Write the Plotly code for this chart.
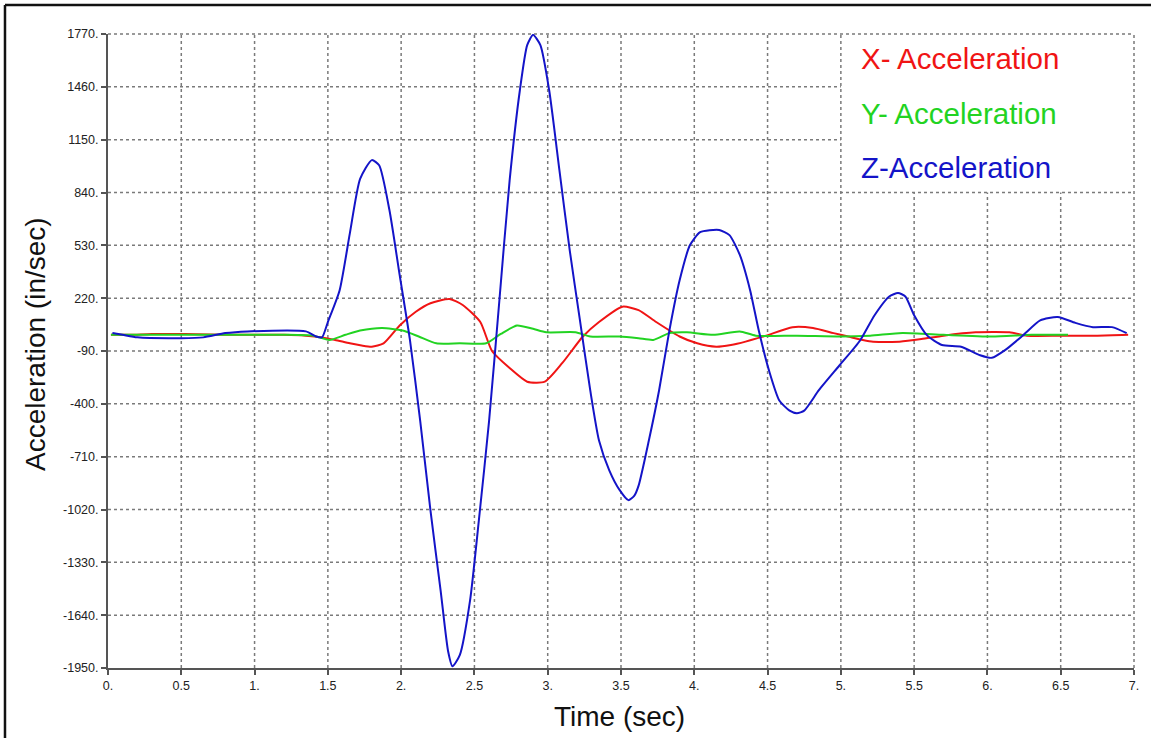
import plotly.graph_objects as go

# Time samples (sec) and accelerations (in/sec) for each axis
t_x = [0.02, 0.15, 0.3, 0.45, 0.6, 0.8, 1.0, 1.2, 1.35, 1.46, 1.55, 1.65, 1.73, 1.8, 1.88,
       1.99, 2.1, 2.2, 2.33, 2.42, 2.54, 2.62, 2.74, 2.86, 2.98, 3.1, 3.24, 3.35, 3.51, 3.62,
       3.74, 3.9, 4.02, 4.15, 4.25, 4.35, 4.49, 4.67, 4.81, 4.95, 5.05, 5.15, 5.22, 5.4,
       5.55, 5.7, 5.92, 6.15, 6.27, 6.5, 6.75, 6.96]
acc_x = [5, 5, 10, 10, 8, 5, 5, 5, 0, -10, -25, -45, -58, -65, -45,
         60, 140, 190, 215, 180, 80, -90, -190, -270, -270, -160, -5, 80, 170, 150,
         80, -5, -45, -65, -55, -35, 0, 50, 45, 15, -5, -25, -35, -35,
         -20, 0, 20, 20, 0, 0, 0, 5]

t_y = [0.02, 0.4, 0.8, 1.2, 1.4, 1.51, 1.62, 1.72, 1.87, 2.01, 2.12, 2.24, 2.4, 2.58, 2.68,
       2.79, 2.9, 2.99, 3.19, 3.29, 3.49, 3.62, 3.72, 3.83, 3.95, 4.13, 4.31, 4.42, 4.7,
       5.0, 5.2, 5.42, 5.7, 6.03, 6.3, 6.55]
acc_y = [5, 5, 5, 5, 0, -25, 5, 30, 45, 30, -5, -45, -45, -45, 10,
         60, 40, 20, 20, -5, -5, -15, -25, 15, 20, 5, 25, 0, 0,
         -5, 0, 15, 5, -5, 5, 5]

t_z = [0.03, 0.1, 0.2, 0.5, 0.65, 0.8, 0.95, 1.35, 1.42, 1.46, 1.5, 1.58, 1.65, 1.72, 1.8,
       1.85, 1.92, 1.99, 2.06, 2.13, 2.2, 2.27, 2.32, 2.35, 2.4, 2.47, 2.53, 2.6, 2.67,
       2.74, 2.81, 2.86, 2.9, 2.95, 3.01, 3.08, 3.15, 3.22, 3.29, 3.35, 3.42, 3.49, 3.55,
       3.59, 3.62, 3.69, 3.76, 3.83, 3.9, 3.97, 4.04, 4.17, 4.24, 4.31, 4.38, 4.44, 4.51,
       4.58, 4.65, 4.7, 4.75, 4.85, 4.99, 5.13, 5.23, 5.33, 5.39, 5.44, 5.5, 5.59, 5.69,
       5.82, 5.95, 6.03, 6.12, 6.24, 6.36, 6.48, 6.6, 6.72, 6.85, 6.95]
acc_z = [15, 5, -10, -15, -10, 15, 25, 25, -5, -10, 80, 265, 600, 920, 1030,
         1000, 737, 355, -25, -500, -1025, -1500, -1850, -1940, -1875, -1555, -1085, -500, 205,
         910, 1440, 1705, 1765, 1705, 1440, 970, 502, 90, -320, -615, -790, -905, -965,
         -940, -880, -615, -320, 30, 325, 530, 607, 620, 590, 475, 270, 30, -205,
         -380, -440, -455, -440, -320, -175, -30, 120, 230, 250, 230, 120, 0, -55,
         -65, -115, -130, -85, 0, 90, 110, 75, 50, 50, 15]

series_names = ["X- Acceleration", "Y- Acceleration", "Z-Acceleration"]
series_colors = ["#f01414", "#22d322", "#1414c8"]

x_ticks = [i * 0.5 for i in range(15)]
x_tick_text = ["0.", "0.5", "1.", "1.5", "2.", "2.5", "3.", "3.5", "4.", "4.5",
               "5.", "5.5", "6.", "6.5", "7."]
y_ticks = [-1950 + 310 * i for i in range(13)]
y_tick_text = [f"{v}." for v in y_ticks]

FONT = "Liberation Sans, Arial, sans-serif"
GRID = "#7a7a7a"
X_MIN, X_MAX = x_ticks[0], x_ticks[-1]
Y_MIN, Y_MAX = y_ticks[0], y_ticks[-1]
# the legend panel occupies the grid cells right of x=5 and above y=840
PANEL_X, PANEL_Y = x_ticks[10], y_ticks[9]

fig = go.Figure()
for tt, vv, name, col in zip([t_x, t_y, t_z], [acc_x, acc_y, acc_z], series_names, series_colors):
    fig.add_trace(go.Scatter(x=tt, y=vv, mode="lines", name=name,
                             line=dict(color=col, width=2, shape="spline", smoothing=0.6)))

axis_common = dict(showline=True, linecolor="#555555", linewidth=2,
                   ticks="outside", ticklen=5, tickwidth=1.5, tickcolor="#555555",
                   showgrid=False, zeroline=False, layer="below traces",
                   tickfont=dict(family=FONT, size=12.5, color="#222222"))

fig.update_xaxes(range=[X_MIN, X_MAX], tickmode="array", tickvals=x_ticks,
                 ticktext=x_tick_text, **axis_common)
fig.update_yaxes(range=[Y_MIN, Y_MAX], tickmode="array", tickvals=y_ticks,
                 ticktext=y_tick_text, **axis_common)

grid_line = dict(color=GRID, width=1.5, dash="dot")
shapes = []
# dotted grid, interrupted by the legend panel
for xv in x_ticks[1:-1]:
    top = PANEL_Y if xv > PANEL_X else Y_MAX
    shapes.append(dict(type="line", xref="x", yref="y", x0=xv, x1=xv, y0=Y_MIN, y1=top,
                       line=grid_line, layer="below"))
for yv in y_ticks[1:-1]:
    right = PANEL_X if yv > PANEL_Y else X_MAX
    shapes.append(dict(type="line", xref="x", yref="y", x0=X_MIN, x1=right, y0=yv, y1=yv,
                       line=grid_line, layer="below"))
# grid along the top and right edges of the plot area
shapes.append(dict(type="line", xref="paper", yref="paper", x0=0, x1=1, y0=1, y1=1,
                   line=grid_line, layer="below"))
shapes.append(dict(type="line", xref="paper", yref="paper", x0=1, x1=1, y0=0, y1=1,
                   line=grid_line, layer="below"))
# frame around the figure (top and left edges)
shapes.append(dict(type="line", xref="paper", yref="paper", x0=-0.1004, x1=1.02,
                   y0=1.0457, y1=1.0457, line=dict(color="#111111", width=2.5)))
shapes.append(dict(type="line", xref="paper", yref="paper", x0=-0.1004, x1=-0.1004,
                   y0=-0.12, y1=1.0457, line=dict(color="#111111", width=2.5)))


def px_x(px):
    return (px - 108) / 1026


def px_y(py):
    return (668 - py) / 634


annotations = []
legend_py = [59, 113, 167]
for name, col, py in zip(series_names, series_colors, legend_py):
    annotations.append(dict(x=px_x(859), y=px_y(py), xref="paper", yref="paper", text=name,
                            showarrow=False, xanchor="left", yanchor="middle",
                            font=dict(family=FONT, size=29.5, color=col)))

annotations.append(dict(x=px_x(619), y=px_y(716), xref="paper", yref="paper",
                        text="Time (sec)", showarrow=False, xanchor="center", yanchor="middle",
                        font=dict(family=FONT, size=28, color="#111111")))
annotations.append(dict(x=px_x(35), y=px_y(344), xref="paper", yref="paper",
                        text="Acceleration (in/sec)", showarrow=False, textangle=-90,
                        xanchor="center", yanchor="middle",
                        font=dict(family=FONT, size=28, color="#111111")))

fig.update_layout(width=1151, height=738, margin=dict(l=108, r=17, t=34, b=70),
                  paper_bgcolor="white", plot_bgcolor="white", showlegend=False,
                  shapes=shapes, annotations=annotations)

fig.write_html("out.html")
